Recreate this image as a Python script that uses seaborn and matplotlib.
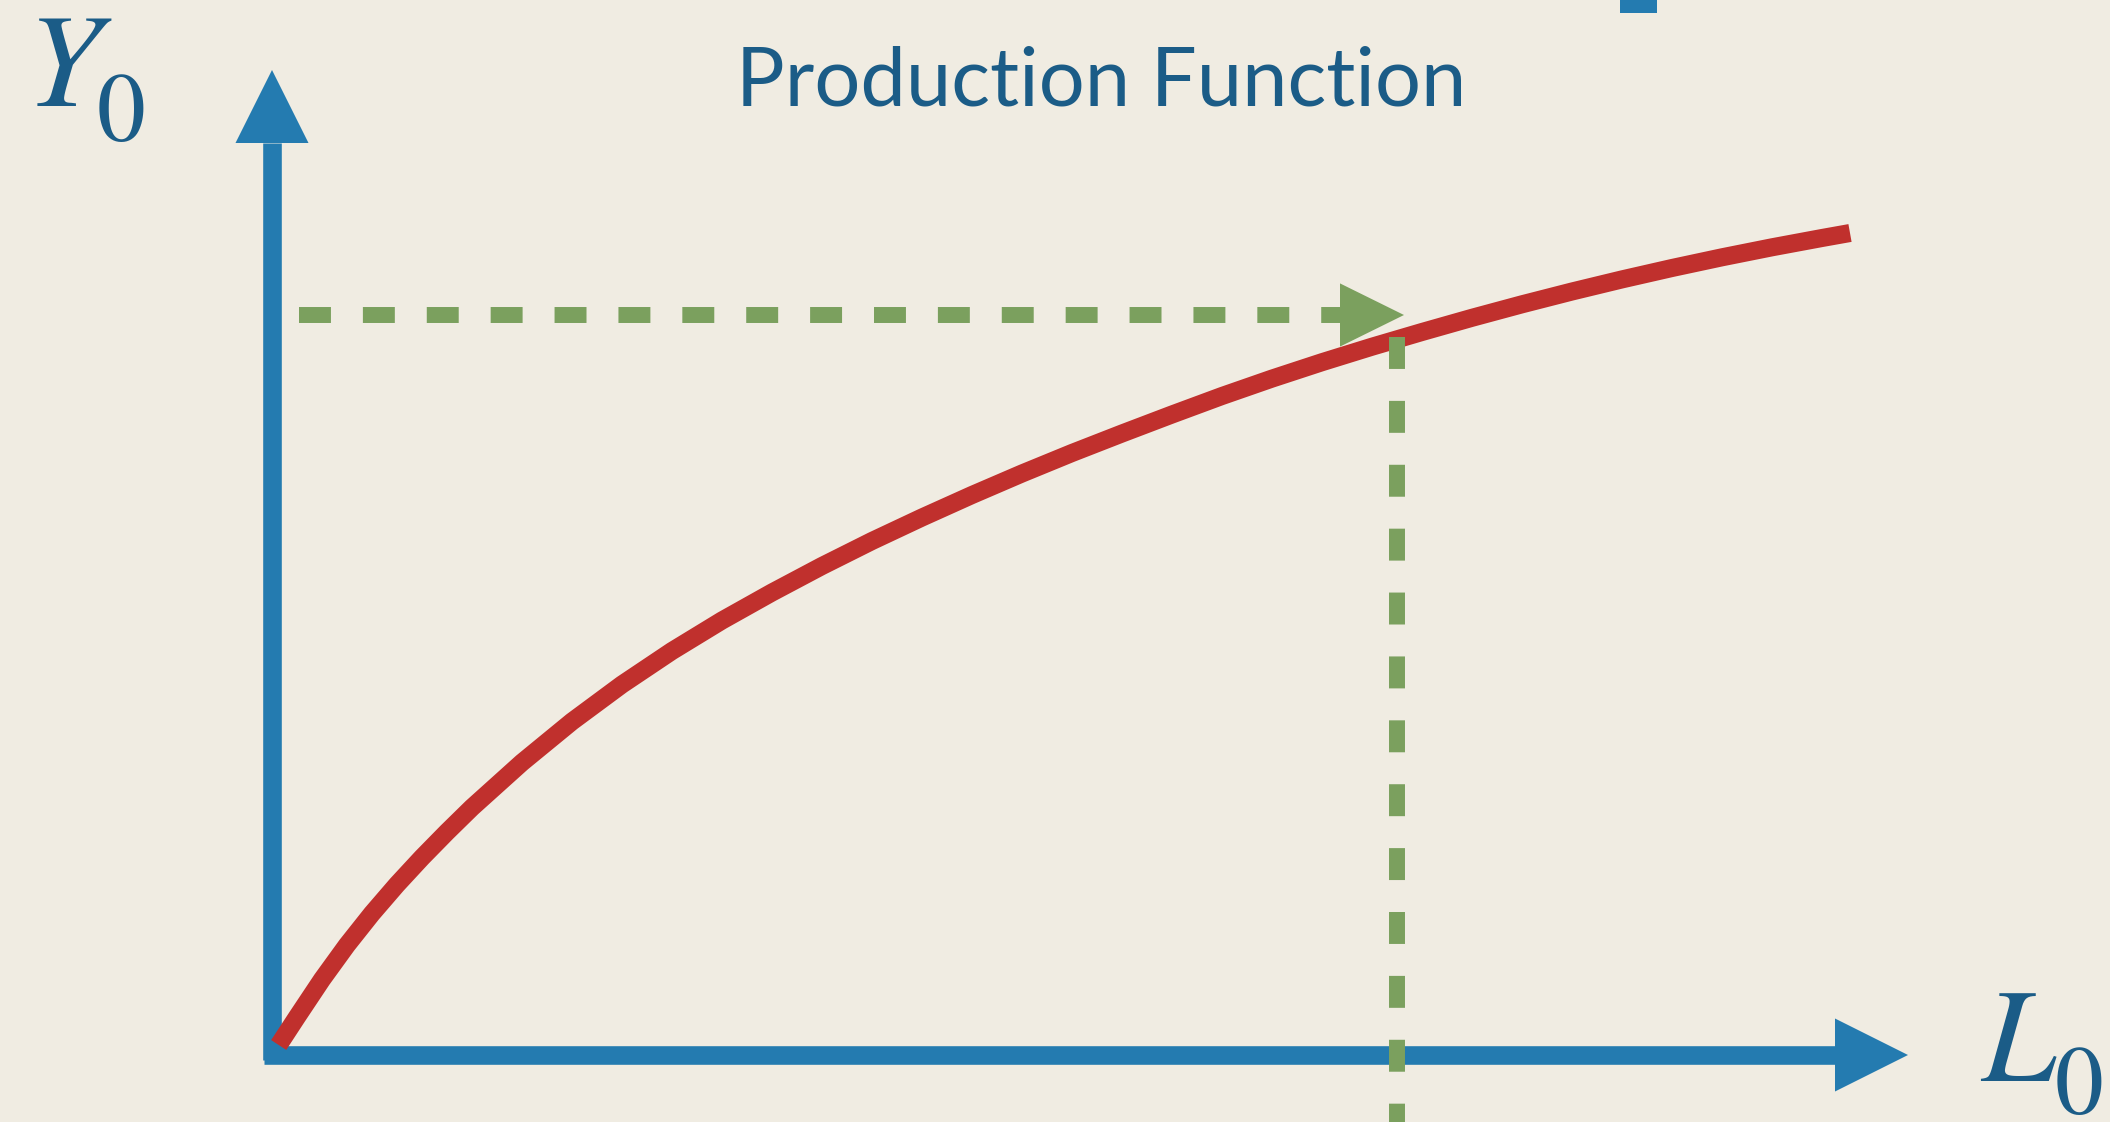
import numpy as np
import matplotlib
matplotlib.use("Agg")
import matplotlib.pyplot as plt
from matplotlib.patches import Polygon, Rectangle
import seaborn as sns

sns.set_theme(style="white")
plt.rcParams['font.family'] = ['Lato', 'DejaVu Sans']

# ---------------- data (1 unit = 100 px) ----------------
labor = [0.067, 0.25, 0.50, 0.75, 1.00, 1.25, 1.50, 1.75, 2.00,
         2.50, 3.00, 3.50, 4.00, 4.50, 5.00, 5.50, 6.00, 6.50, 7.00,
         7.50, 8.00, 8.50, 9.00, 9.50, 10.00, 10.50, 11.00, 11.50, 12.00,
         12.50, 13.00, 13.50, 14.00, 14.50, 15.00, 15.50, 15.78]
output = [0.10, 0.38, 0.755, 1.10, 1.415, 1.705, 1.975, 2.23, 2.475,
          2.925, 3.335, 3.705, 4.04, 4.345, 4.625, 4.89, 5.14, 5.375, 5.60,
          5.815, 6.02, 6.215, 6.405, 6.59, 6.764, 6.928, 7.083, 7.23, 7.372,
          7.507, 7.635, 7.756, 7.87, 7.977, 8.077, 8.17, 8.22]

L_marked = 11.25      # vertical dashed guide
Y_marked = 7.40       # horizontal dashed guide
guide_x_start = 0.27
guide_y_top = 7.18

title_text = "Production Function"
y_label, y_sub = "Y", "0"
x_label, x_sub = "L", "0"

# axis extents
y_axis_top = 9.85
x_axis_right = 16.36
head_len = 0.73
head_half = 0.365
g_head_len = 0.64
g_head_half = 0.316

# ---------------- style ----------------
bg = "#F0ECE2"
blue = "#247BB0"
red = "#C0302D"
green = "#7BA05E"
text_col = "#1B5C87"

fig = plt.figure(figsize=(21.1, 11.22), dpi=100, facecolor=bg)
ax = fig.add_axes([0, 0, 1, 1])
ax.set_facecolor(bg)
ax.set_xlim(-2.72, 18.38)
ax.set_ylim(-0.67, 10.55)
ax.axis("off")

# axes arrows
ax.plot([0, 0], [-0.05, y_axis_top - head_len], color=blue, lw=13.4,
        solid_capstyle="butt", zorder=2)
ax.add_patch(Polygon([[-head_half, y_axis_top - head_len], [head_half, y_axis_top - head_len],
                      [0, y_axis_top]], closed=True, color=blue, lw=0, zorder=2))
ax.plot([-0.08, x_axis_right - head_len], [0, 0], color=blue, lw=13.4,
        solid_capstyle="butt", zorder=2)
ax.add_patch(Polygon([[x_axis_right - head_len, -head_half], [x_axis_right - head_len, head_half],
                      [x_axis_right, 0]], closed=True, color=blue, lw=0, zorder=2))

# production function curve
sns.lineplot(x=labor, y=output, ax=ax, color=red, linewidth=13, sort=False,
             estimator=None, solid_capstyle="butt", solid_joinstyle="round", zorder=3)

# green dashed guides
ax.plot([guide_x_start, L_marked + 0.07 - g_head_len], [Y_marked, Y_marked], color=green,
        lw=11.5, dashes=(2, 2), dash_capstyle="butt", zorder=4)
ax.add_patch(Polygon([[L_marked + 0.07 - g_head_len, Y_marked - g_head_half],
                      [L_marked + 0.07 - g_head_len, Y_marked + g_head_half],
                      [L_marked + 0.07, Y_marked]], closed=True, color=green, lw=0, zorder=4))
ax.plot([L_marked, L_marked], [guide_y_top, -1.2], color=green, lw=11.5,
        dashes=(2, 2), dash_capstyle="butt", zorder=4)

# slide decoration square
ax.add_patch(Rectangle((13.48, 10.42), 0.37, 0.3, color=blue, lw=0, zorder=2))

# texts
ax.text(8.29, 9.497, title_text, ha="center", va="baseline", fontsize=58.5,
        color=text_col, family=["Lato", "DejaVu Sans"])
ax.text(-2.45, 9.49, y_label, ha="left", va="baseline", fontsize=96,
        style="italic", family=["STIXGeneral"], color=text_col)
ax.text(-1.75, 9.14, y_sub, ha="left", va="baseline", fontsize=70,
        family=["STIXGeneral"], color=text_col)
ax.text(17.09, -0.26, x_label, ha="left", va="baseline", fontsize=96,
        style="italic", family=["STIXGeneral"], color=text_col)
ax.text(17.83, -0.59, x_sub, ha="left", va="baseline", fontsize=70,
        family=["STIXGeneral"], color=text_col)

fig.savefig("out.png", dpi=100, facecolor=bg)
